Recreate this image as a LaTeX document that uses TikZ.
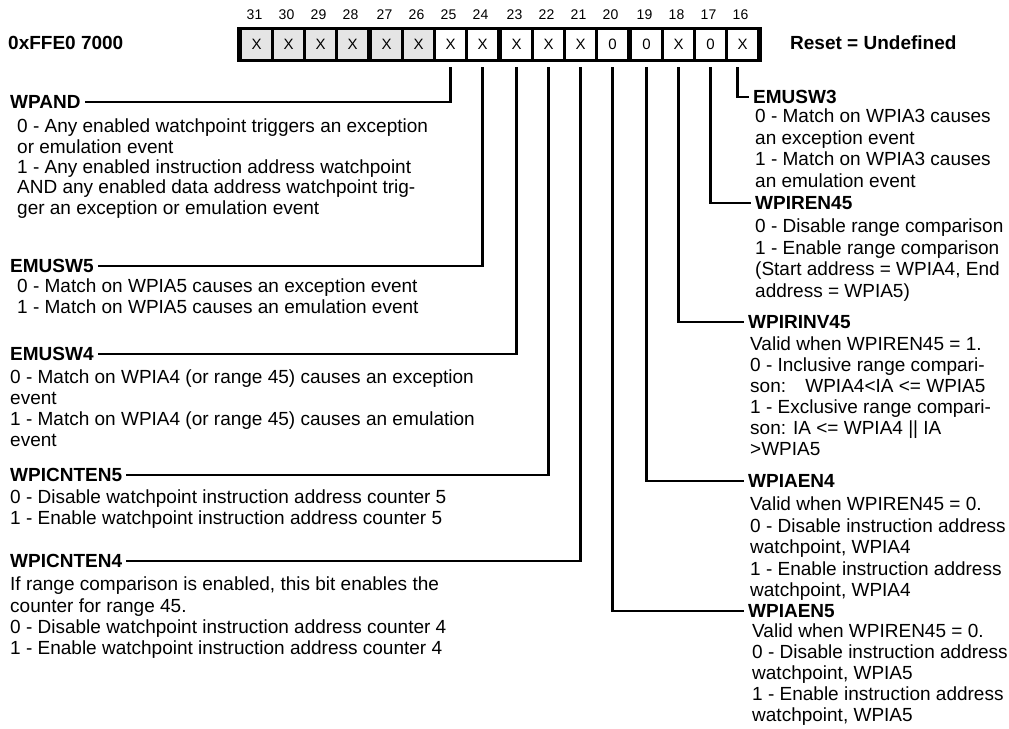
\documentclass[tikz,border=0pt]{standalone}
\usepackage{fontspec}
\setmainfont{Liberation Sans}
\definecolor{cellgray}{gray}{0.9}
\newcommand\regfont{\fontsize{19}{21.5}\selectfont}
\newcommand\tightfont{\fontsize{19}{20.3}\selectfont}
\newcommand\bitfont{\fontsize{14}{16}\selectfont}
\newcommand\cellfont{\fontsize{15}{17}\selectfont}

\begin{document}
\begin{tikzpicture}[x=1pt, y=-1pt, font=\regfont]
        \tikzset{
            cell/.style={minimum width=29pt, minimum height=29pt, inner sep=0pt, font=\cellfont},
            bitnum/.style={inner sep=0pt, font=\bitfont},
            field/.style={anchor=west, inner xsep=4pt, inner ysep=0pt, font=\regfont\bfseries},
            desc/.style={anchor=north west, inner sep=0pt, align=left, execute at begin node=\strut},
            leader/.style={line width=2.7pt}
        }
        \useasboundingbox (0,0) rectangle (1009,728);

        % register frame and bit cells
        \fill (237,27) rectangle (762,62);
        \foreach \b/\v [count=\k from 0] in {31/X,30/X,29/X,28/X,27/X,26/X,25/X,24/X,
                23/X,22/X,21/X,20/0,19/0,18/X,17/0,16/X} {
            \pgfmathsetmacro\cx{256.5+\k*32+2*int(\k/4)}
            \ifnum\k<6 \def\cf{cellgray}\else\def\cf{white}\fi
            \node[cell, fill=\cf] (b\b) at (\cx,44.5) {\v};
            \node[bitnum] (n\b) at (\cx-2,15) {\b};
            \coordinate (t\b) at ([yshift=-8pt]b\b.south);
        }

        \node[field] (addr) at (4,43) {0xFFE0 7000};
        \node[field] (reset) at (786,43) {Reset = Undefined};

        % left column
        \node[field] (wpand) at (6,102) {WPAND};
        \node[desc, font=\tightfont] (wpand-d) at (17,119)
            {0 - Any enabled watchpoint triggers an exception\\
             or emulation event\\
             1 - Any enabled instruction address watchpoint\\
             AND any enabled data address watchpoint trig-\\
             ger an exception or emulation event};

        \node[field] (emusw5) at (6,266) {EMUSW5};
        \node[desc, font=\tightfont] (emusw5-d) at (17,279)
            {0 - Match on WPIA5 causes an exception event\\
             1 - Match on WPIA5 causes an emulation event};

        \node[field] (emusw4) at (6,354) {EMUSW4};
        \node[desc, font=\fontsize{19}{20.7}\selectfont] (emusw4-d) at (10,370)
            {0 - Match on WPIA4 (or range 45) causes an exception\\
             event\\
             1 - Match on WPIA4 (or range 45) causes an emulation\\
             event};

        \node[field] (cnten5) at (6,475) {WPICNTEN5};
        \node[desc, font=\fontsize{19}{21}\selectfont] (cnten5-d) at (10,490)
            {0 - Disable watchpoint instruction address counter 5\\
             1 - Enable watchpoint instruction address counter 5};

        \node[field] (cnten4) at (6,561) {WPICNTEN4};
        \node[desc, font=\fontsize{19}{21.3}\selectfont] (cnten4-d) at (10,577)
            {If range comparison is enabled, this bit enables the\\
             counter for range 45.\\
             0 - Disable watchpoint instruction address counter 4\\
             1 - Enable watchpoint instruction address counter 4};

        % right column
        \node[field] (emusw3) at (749,97) {EMUSW3};
        \node[desc] (emusw3-d) at (755,109)
            {0 - Match on WPIA3 causes\\
             an exception event\\
             1 - Match on WPIA3 causes\\
             an emulation event};

        \node[field] (ren45) at (751,203) {WPIREN45};
        \node[desc] (ren45-d) at (755,219)
            {0 - Disable range comparison\\
             1 - Enable range comparison\\
             (Start address = WPIA4, End\\
             address = WPIA5)};

        \node[field] (rinv45) at (744,322) {WPIRINV45};
        \node[desc, font=\fontsize{19}{21}\selectfont] (rinv45-d) at (750,337)
            {Valid when WPIREN45 = 1.\\
             0 - Inclusive range compari-\\
             son:\hspace*{14pt} WPIA4<IA <= WPIA5\\
             1 - Exclusive range compari-\\
             son: IA <= WPIA4 || IA\\
             >WPIA5};

        \node[field] (aen4) at (744,481) {WPIAEN4};
        \node[desc] (aen4-d) at (750,497)
            {Valid when WPIREN45 = 0.\\
             0 - Disable instruction address\\
             watchpoint, WPIA4\\
             1 - Enable instruction address\\
             watchpoint, WPIA4};

        \node[field] (aen5) at (744,611) {WPIAEN5};
        \node[desc, font=\fontsize{19}{21}\selectfont] (aen5-d) at (752,624)
            {Valid when WPIREN45 = 0.\\
             0 - Disable instruction address\\
             watchpoint, WPIA5\\
             1 - Enable instruction address\\
             watchpoint, WPIA5};

        % leaders from the bits
        \draw[leader] (t25) |- (wpand.east);
        \draw[leader] (t24) |- (emusw5.east);
        \draw[leader] (t23) |- (emusw4.east);
        \draw[leader] (t22) |- (cnten5.east);
        \draw[leader] (t21) |- (cnten4.east);
        \draw[leader] (t20) |- (aen5.west);
        \draw[leader] (t19) |- (aen4.west);
        \draw[leader] (t18) |- (rinv45.west);
        \draw[leader] (t17) |- (ren45.west);
        \draw[leader] ([xshift=-5pt]t16) |- (emusw3.west);
    \end{tikzpicture}
\end{document}
